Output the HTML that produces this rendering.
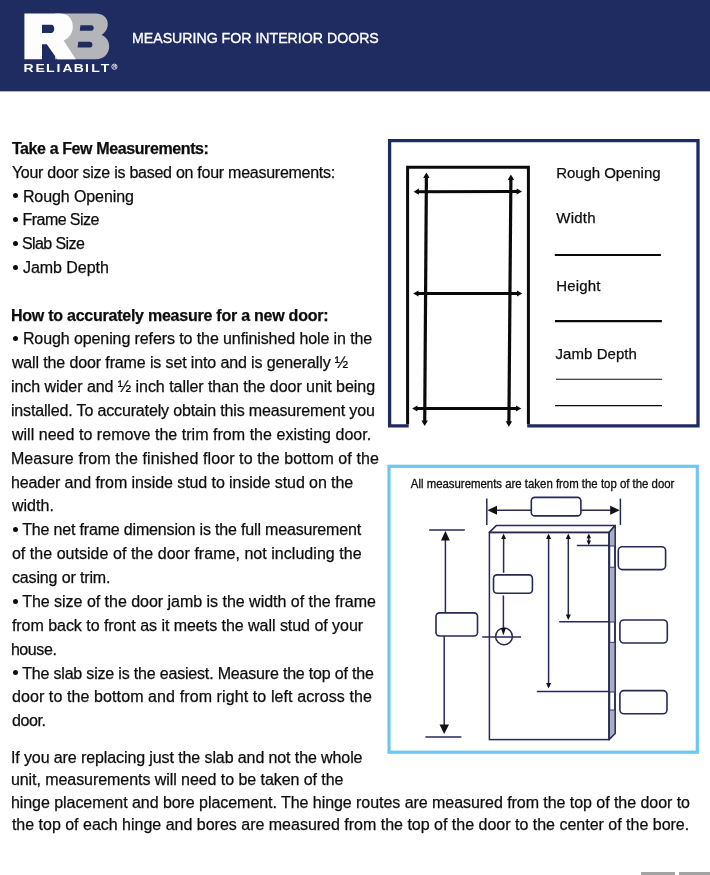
<!DOCTYPE html>
<html><head><meta charset="utf-8"><title>Measuring for Interior Doors</title>
<style>
html,body{margin:0;padding:0;background:#fff;}
body{width:710px;height:875px;position:relative;overflow:hidden;font-family:"Liberation Sans",sans-serif;}
.abs{position:absolute;}
.hdr{position:absolute;left:0;top:0;width:710px;height:92px;background:linear-gradient(to bottom,#1f2c61 0,#1f2c61 90.6px,#fff 92px);}
.t{position:absolute;white-space:pre;font-size:16px;line-height:20px;color:#0d0d0d;-webkit-text-stroke:0.25px #0d0d0d;}
.bu{position:absolute;width:5px;height:5px;border-radius:50%;background:#0d0d0d;}
.g{position:absolute;top:872px;height:3px;background:#a3a3a3;}
</style></head><body>
<div id="pg" style="position:absolute;left:0;top:0;width:710px;height:875px;will-change:transform">
<div class="hdr"></div>
<svg class="abs" style="left:0;top:0" width="130" height="91" viewBox="0 0 130 91">
<path fill="#b4b5b8" fill-rule="evenodd" d="M55 13.5 L95.6 13.5 C102.5 13.5 107.8 17.5 107.8 23.8 C107.8 29 105 32.8 101.6 35 C106 36.8 109.2 40.8 109.2 46.2 C109.2 54 103.5 59.2 96 59.2 L55 59.2 Z M80.4 25.2 L91.2 25.2 C94.6 25.2 94.6 30.8 91.2 30.8 L79.8 30.8 Z M78.3 41.7 L89.8 41.7 C93.4 41.7 93.4 47.6 89.8 47.6 L77.6 47.6 Z"/>
<path fill="#fdfdfd" fill-rule="evenodd" d="M24.4 13.5 L59 13.5 C67.5 13.5 72.8 18 72.8 26.5 C72.8 33 69.5 37.8 63.6 40.6 L75.8 59.3 L57.3 59.3 L46.8 44.2 L42 44.2 L42 59.3 L24.4 59.3 Z M42 24.8 L51.5 24.8 C55.2 24.8 55.2 32.9 51.5 32.9 L42 32.9 Z"/>
<g transform="scale(1.4,1)"><text y="71.6" fill="#fdfdfd" font-family="Liberation Sans" font-weight="bold" font-size="10" x="16.84 25.34 32.91 40.28 44.69 52.77 60.64 65.27 71.94">RELIABILT</text></g>
<circle cx="114.4" cy="66.7" r="2.6" fill="none" stroke="#e8e8f0" stroke-width="0.9"/>
<text x="113.2" y="68.3" fill="#e8e8f0" font-family="Liberation Sans" font-weight="bold" font-size="4.2">R</text>
</svg>
<svg class="abs" style="left:0;top:0" width="710" height="91"><text x="132" y="42.8" fill="#ffffff" font-family="Liberation Sans" font-size="14.7" stroke="#fff" stroke-width="0.35" textLength="246.8" lengthAdjust="spacingAndGlyphs">MEASURING FOR INTERIOR DOORS</text></svg>
<svg class="abs" style="left:0;top:0" width="710" height="875">
<path d="M408.7 425.8 L389.6 425.8 L389.6 140.7 L698 140.7 L698 425.8 L527.2 425.8" fill="none" stroke="#1f2c61" stroke-width="3.3"/>
<path d="M407.6 424.2 L407.6 167.3 L528.4 167.3 L528.4 424.2" fill="none" stroke="#0a0a0a" stroke-width="3"/>
<line x1="426.4" y1="175.84" x2="424.7" y2="422.66" stroke="#0a0a0a" stroke-width="3.2"/><polygon points="426.4,172.6 423.2,178 429.6,178" fill="#0a0a0a"/><polygon points="424.7,425.9 421.5,420.5 427.9,420.5" fill="#0a0a0a"/>
<line x1="510.9" y1="177.84" x2="508.9" y2="423.46" stroke="#0a0a0a" stroke-width="3.2"/><polygon points="510.9,174.6 507.7,180 514.1,180" fill="#0a0a0a"/><polygon points="508.9,426.7 505.7,421.3 512.1,421.3" fill="#0a0a0a"/>
<line x1="416.78" y1="191.7" x2="518.82" y2="191.5" stroke="#0a0a0a" stroke-width="3.1"/><polygon points="413.6,191.7 418.9,188.6 418.9,194.8" fill="#0a0a0a"/><polygon points="522,191.5 516.7,188.4 516.7,194.6" fill="#0a0a0a"/>
<line x1="416.38" y1="293.5" x2="519.12" y2="293.5" stroke="#0a0a0a" stroke-width="3.1"/><polygon points="413.2,293.5 418.5,290.4 418.5,296.6" fill="#0a0a0a"/><polygon points="522.3,293.5 517,290.4 517,296.6" fill="#0a0a0a"/>
<line x1="415.28" y1="408.5" x2="518.12" y2="408.5" stroke="#0a0a0a" stroke-width="3.1"/><polygon points="412.1,408.5 417.4,405.4 417.4,411.6" fill="#0a0a0a"/><polygon points="521.3,408.5 516,405.4 516,411.6" fill="#0a0a0a"/>
<line x1="554.8" y1="255" x2="660.9" y2="255" stroke="#0a0a0a" stroke-width="2.2"/>
<line x1="555" y1="321.1" x2="661.9" y2="321.1" stroke="#0a0a0a" stroke-width="2.2"/>
<line x1="556" y1="379.3" x2="662" y2="379.3" stroke="#0a0a0a" stroke-width="1.1"/>
<line x1="555" y1="405.6" x2="662" y2="405.6" stroke="#0a0a0a" stroke-width="1.1"/>
<g font-family="Liberation Sans" font-size="15" fill="#0d0d0d" stroke="#0d0d0d" stroke-width="0.25">
<text x="556.3" y="178.2" textLength="104.2" lengthAdjust="spacing">Rough Opening</text>
<text x="556.3" y="223" textLength="39.3" lengthAdjust="spacing">Width</text>
<text x="556.3" y="291.1" textLength="44" lengthAdjust="spacing">Height</text>
<text x="555.5" y="358.7" textLength="81.4" lengthAdjust="spacing">Jamb Depth</text>
</g>
</svg>
<svg class="abs" style="left:0;top:0" width="710" height="875">
<rect x="389" y="466.3" width="308.3" height="285.9" fill="none" stroke="#6cc8f1" stroke-width="3.2"/>
<text x="410.8" y="488" font-family="Liberation Sans" font-size="12.3" fill="#0d0d0d" stroke="#0d0d0d" stroke-width="0.3" textLength="263.6" lengthAdjust="spacingAndGlyphs">All measurements are taken from the top of the door</text>
<g stroke="#262a55" stroke-width="1.5" fill="none">
<line x1="486.8" y1="498.6" x2="486.8" y2="524.9"/>
<line x1="620.4" y1="498.6" x2="620.4" y2="524.9"/>
<line x1="492" y1="510.3" x2="615" y2="510.3"/>
<line x1="429.2" y1="529.9" x2="464.8" y2="529.9"/>
<line x1="425.4" y1="736.9" x2="461.4" y2="736.9"/>
<line x1="445.4" y1="538" x2="445.4" y2="613"/>
<line x1="444.2" y1="636" x2="444.2" y2="727"/>
</g>
<polygon points="487.4,510.3 497,505.8 497,514.8" fill="#111"/>
<polygon points="619.8,510.3 610.2,505.8 610.2,514.8" fill="#111"/>
<polygon points="445.4,531 441,540.4 449.9,540.4" fill="#111"/>
<polygon points="444.2,733.9 439.5,724.6 449,724.6" fill="#111"/>
<rect x="531.3" y="497.4" width="49.6" height="18.5" rx="3.5" ry="3.5" fill="#fff" stroke="#262a55" stroke-width="1.6"/>
<rect x="436" y="612.9" width="41.5" height="23.1" rx="3.5" ry="3.5" fill="#fff" stroke="#262a55" stroke-width="1.6"/>
<polygon points="489.4,532.4 496.2,525.6 615.2,525.6 609,532.4" fill="#fff" stroke="#262a55" stroke-width="1.5" stroke-linejoin="round"/>
<polygon points="609,532.4 615.2,525.6 615.2,733.5 609,739.6" fill="#a9aec6" stroke="#262a55" stroke-width="1.5" stroke-linejoin="round"/>
<rect x="609.8" y="546" width="4.6" height="21.2" fill="#fff" stroke="#262a55" stroke-width="0.9"/>
<rect x="609.8" y="622" width="4.6" height="20.3" fill="#fff" stroke="#262a55" stroke-width="0.9"/>
<rect x="609.8" y="692" width="4.6" height="18" fill="#fff" stroke="#262a55" stroke-width="0.9"/>
<rect x="489.4" y="532.4" width="119.6" height="207.2" fill="none" stroke="#262a55" stroke-width="1.5"/>
<g stroke="#262a55" stroke-width="1.5">
<line x1="576.8" y1="545.6" x2="609" y2="545.6"/>
<line x1="559.2" y1="621.7" x2="609" y2="621.7"/>
<line x1="536.8" y1="691.5" x2="609" y2="691.5"/>
<line x1="482.2" y1="636.9" x2="521.1" y2="636.9"/>
<line x1="503.6" y1="537" x2="503.6" y2="572.8"/>
<line x1="503.4" y1="595.5" x2="503.4" y2="629"/>
</g>
<circle cx="504" cy="636.4" r="8.4" fill="none" stroke="#262a55" stroke-width="1.5"/>
<polygon points="503.6,533.6 501.2,539 506,539" fill="#111"/>
<polygon points="503.4,635.2 500.8,628 506,628" fill="#111"/>
<line x1="548.6" y1="535.6" x2="548.6" y2="686.4" stroke="#262a55" stroke-width="1.5"/><polygon points="548.6,533.6 546.1,539.1 551.1,539.1" fill="#111"/><polygon points="548.6,688.4 546.1,682.9 551.1,682.9" fill="#111"/>
<line x1="568.3" y1="535.6" x2="568.3" y2="618" stroke="#262a55" stroke-width="1.5"/><polygon points="568.3,533.6 565.8,539.1 570.8,539.1" fill="#111"/><polygon points="568.3,620 565.8,614.5 570.8,614.5" fill="#111"/>
<line x1="588.8" y1="535.6" x2="588.8" y2="543.2" stroke="#262a55" stroke-width="1.5"/><polygon points="588.8,533.6 586.6,538.2 591,538.2" fill="#111"/><polygon points="588.8,545.2 586.6,540.6 591,540.6" fill="#111"/>
<rect x="493.5" y="574.9" width="38.9" height="18.4" rx="3.5" ry="3.5" fill="#fff" stroke="#262a55" stroke-width="1.6"/>
<rect x="618.3" y="546.7" width="47.3" height="22.9" rx="4" ry="4" fill="#fff" stroke="#262a55" stroke-width="1.6"/>
<rect x="619.9" y="620" width="47.4" height="23" rx="4" ry="4" fill="#fff" stroke="#262a55" stroke-width="1.6"/>
<rect x="619.9" y="690.6" width="47.1" height="23.2" rx="4" ry="4" fill="#fff" stroke="#262a55" stroke-width="1.6"/>
</svg>
<div class="t" style="left:11.90px;top:138.50px;letter-spacing:-0.390px;font-weight:bold;">Take a Few Measurements:</div>
<div class="t" style="left:11.90px;top:162.50px;letter-spacing:-0.258px;">Your door size is based on four measurements:</div>
<div class="bu" style="left:12.5px;top:193.30px"></div><div class="t" style="left:22.90px;top:186.50px;letter-spacing:-0.091px;">Rough Opening</div>
<div class="bu" style="left:12.5px;top:217.20px"></div><div class="t" style="left:22.60px;top:210.40px;letter-spacing:-0.566px;">Frame Size</div>
<div class="bu" style="left:12.5px;top:240.80px"></div><div class="t" style="left:22.00px;top:234.00px;letter-spacing:-0.587px;">Slab Size</div>
<div class="bu" style="left:12.5px;top:264.70px"></div><div class="t" style="left:23.00px;top:257.90px;letter-spacing:-0.052px;">Jamb Depth</div>
<div class="t" style="left:10.90px;top:305.60px;letter-spacing:-0.239px;font-weight:bold;">How to accurately measure for a new door:</div>
<div class="bu" style="left:12.5px;top:336.26px"></div><div class="t" style="left:22.90px;top:329.46px;letter-spacing:-0.095px;">Rough opening refers to the unfinished hole in the</div>
<div class="t" style="left:11.90px;top:353.32px;letter-spacing:-0.124px;">wall the door frame is set into and is generally ½</div>
<div class="t" style="left:10.90px;top:377.18px;letter-spacing:-0.044px;">inch wider and ½ inch taller than the door unit being</div>
<div class="t" style="left:10.90px;top:401.04px;letter-spacing:-0.148px;">installed. To accurately obtain this measurement you</div>
<div class="t" style="left:11.90px;top:424.90px;letter-spacing:0.036px;">will need to remove the trim from the existing door.</div>
<div class="t" style="left:10.90px;top:448.76px;letter-spacing:0.101px;">Measure from the finished floor to the bottom of the</div>
<div class="t" style="left:10.90px;top:472.62px;letter-spacing:-0.077px;">header and from inside stud to inside stud on the</div>
<div class="t" style="left:11.90px;top:496.48px;letter-spacing:0.030px;">width.</div>
<div class="bu" style="left:12.5px;top:527.14px"></div><div class="t" style="left:22.20px;top:520.34px;letter-spacing:-0.171px;">The net frame dimension is the full measurement</div>
<div class="t" style="left:11.90px;top:544.20px;letter-spacing:0.038px;">of the outside of the door frame, not including the</div>
<div class="t" style="left:11.90px;top:568.06px;letter-spacing:-0.137px;">casing or trim.</div>
<div class="bu" style="left:12.5px;top:598.72px"></div><div class="t" style="left:22.20px;top:591.92px;letter-spacing:-0.023px;">The size of the door jamb is the width of the frame</div>
<div class="t" style="left:11.90px;top:615.78px;letter-spacing:-0.036px;">from back to front as it meets the wall stud of your</div>
<div class="t" style="left:10.90px;top:639.64px;letter-spacing:-0.419px;">house.</div>
<div class="bu" style="left:12.5px;top:670.30px"></div><div class="t" style="left:22.20px;top:663.50px;letter-spacing:-0.184px;">The slab size is the easiest. Measure the top of the</div>
<div class="t" style="left:11.90px;top:687.36px;letter-spacing:0.101px;">door to the bottom and from right to left across the</div>
<div class="t" style="left:11.90px;top:711.22px;letter-spacing:-0.360px;">door.</div>
<div class="t" style="left:10.90px;top:747.60px;letter-spacing:-0.099px;">If you are replacing just the slab and not the whole</div>
<div class="t" style="left:10.90px;top:770.00px;letter-spacing:-0.059px;">unit, measurements will need to be taken of the</div>
<div class="t" style="left:10.90px;top:792.50px;letter-spacing:-0.050px;">hinge placement and bore placement. The hinge routes are measured from the top of the door to</div>
<div class="t" style="left:11.90px;top:815.30px;letter-spacing:-0.005px;">the top of each hinge and bores are measured from the top of the door to the center of the bore.</div>
<div class="g" style="left:641px;width:34px"></div>
<div class="g" style="left:679px;width:31px"></div>
</div>
</body></html>
